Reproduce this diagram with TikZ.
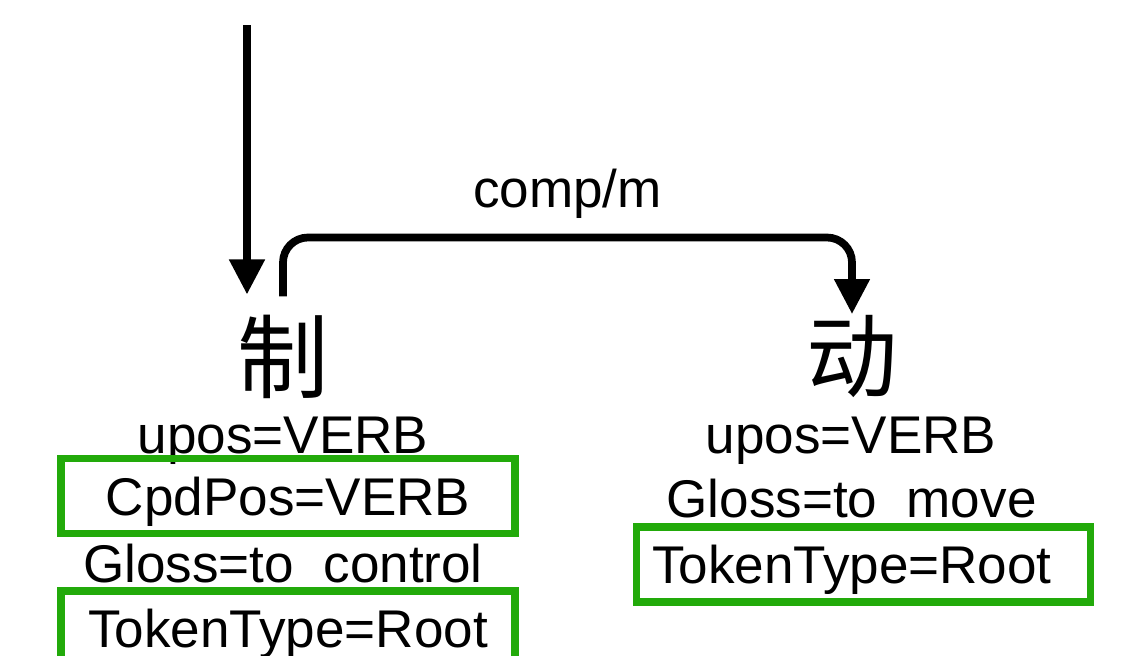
\documentclass[tikz,border=0pt]{standalone}
\usepackage{fontspec}
\setmainfont{Liberation Sans}
\newfontfamily\cjkfont{Noto Sans CJK SC}
\usetikzlibrary{arrows.meta, positioning}
\definecolor{featgreen}{RGB}{34, 170, 10}

\begin{document}
\begin{tikzpicture}[
  word/.style={font=\cjkfont\fontsize{26}{30}\selectfont, inner sep=0pt},
  feat/.style={font=\fontsize{15.1}{18}\selectfont, inner sep=0pt, anchor=base},
  featbox/.style={draw=featgreen, line width=2pt, font=\fontsize{15.1}{18}\selectfont,
    minimum width=4.54cm, minimum height=0.75cm, text height=0.5cm, text depth=0.12cm, inner sep=0pt},
  deprel/.style={line width=2.2pt, -{Triangle[length=3.5mm, width=3.4mm]}},
]
  \useasboundingbox (0,0) rectangle (11.46,-6.55);

  % the two tokens
  \node[word] (zhi) at (2.83,-3.57) {制};
  \node[word] (dong) at (8.52,-3.56) {动};

  % features under the first token
  \node[feat] (zhiupos) at (2.83,-4.53) {upos=VERB};
  \node[featbox] (zhicpd) at (2.88,-4.96) {CpdPos=VERB};
  \node[feat] (zhigloss) at (2.83,-5.82) {Gloss=to\ \ control};
  \node[featbox] (zhitype) at (2.88,-6.285) {TokenType=Root};

  % features under the second token
  \node[feat] (dongupos) at (8.51,-4.53) {upos=VERB};
  \node[feat] (donggloss) at (8.515,-5.17) {Gloss=to\ \ move};
  \node[featbox, text width=4.23cm, align=left, inner xsep=0.155cm] (dongtype) at (8.635,-5.645) {TokenType=Root};

  % root arrow
  \coordinate (roottop) at (2.47,-0.25);
  \path ([yshift=2mm]zhi.north) coordinate (zhitop);
  \draw[deprel] (roottop) -- (roottop |- zhitop);

  % dependency arc
  \draw[deprel, rounded corners=2.5mm] ([yshift=1.8mm]zhi.north) -- ++(0,0.59) -| (dong.north)
    node[pos=0.25, above=1.5mm, inner sep=0pt, font=\fontsize{15.1}{18}\selectfont] (rel) {comp/m};
\end{tikzpicture}
\end{document}
